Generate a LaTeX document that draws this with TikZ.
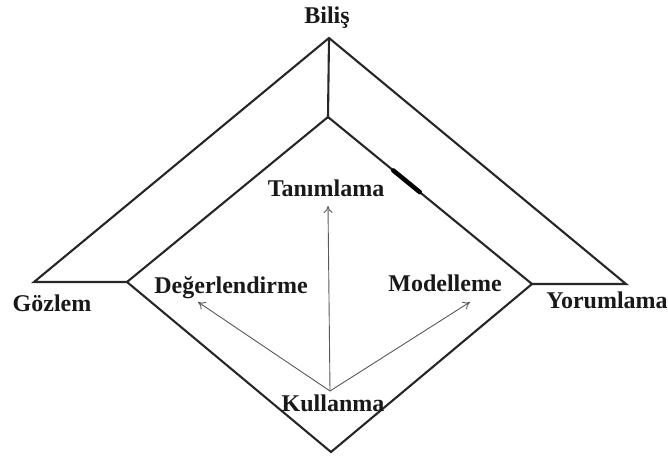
\documentclass[tikz,border=0pt]{standalone}
\usepackage{fontspec}
\setmainfont{Liberation Serif}
\usetikzlibrary{arrows.meta,calc}
\begin{document}
\begin{tikzpicture}[x=1pt,y=-1pt,
  frame/.style={line width=2.1pt,line join=miter,black!85},
  arr/.style={draw=black!65,line width=0.9pt,-{To[length=7pt,width=9pt]}},
  lbl/.style={font=\fontsize{24}{28}\selectfont\bfseries,anchor=base,inner sep=0pt,text=black!90}]
\useasboundingbox (0,0) rectangle (668,461);
% corner points
\coordinate (apex) at (329,38);
\coordinate (oL) at (34,282);
\coordinate (oR) at (626,284);
\coordinate (iT) at (328,117);
\coordinate (iL) at (127,282);
\coordinate (iR) at (532,284);
\coordinate (iB) at (331,452);
% frame
\draw[frame] (iL) -- (oL) -- (apex) -- (oR) -- (iR);
\draw[frame] (apex) -- (iT);
\draw[frame] (iT) -- (iR) -- (iB) -- (iL) -- cycle;
\draw[line width=4.5pt,black,line cap=round] ($(iT)!0.32!(iR)$) -- ($(iT)!0.45!(iR)$);
% labels
\node[lbl] (bilis) at (327,23) {Biliş};
\node[lbl] (gozlem) at (52,311) {Gözlem};
\node[lbl] (yorum) at (607,308) {Yorumlama};
\node[lbl] (tanim) at (326,196) {Tanımlama};
\node[lbl] (deger) at (231,293) {Değerlendirme};
\node[lbl] (model) at (445,291) {Modelleme};
\node[lbl] (kullan) at (333,411) {Kullanma};
% arrows
\coordinate (src) at (330,391);
\coordinate (tT) at (328,206);
\coordinate (tD) at (198,302);
\coordinate (tM) at (470,302);
\draw[arr] (src) -- (tT);
\draw[arr] (src) -- (tD);
\draw[arr] (src) -- (tM);
\end{tikzpicture}
\end{document}
